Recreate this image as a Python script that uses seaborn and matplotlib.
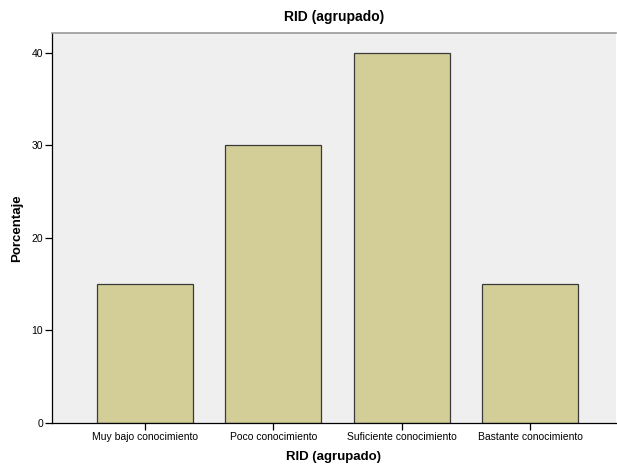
import matplotlib
matplotlib.use("Agg")
import matplotlib.pyplot as plt
import seaborn as sns
import pandas as pd

categories = ["Muy bajo conocimiento", "Poco conocimiento", "Suficiente conocimiento", "Bastante conocimiento"]
values = [15, 30, 40, 15]
yticks = [0, 10, 20, 30, 40]

sns.set_style("white")
plt.rcParams['font.family'] = ['Liberation Sans', 'DejaVu Sans']
plt.rcParams['text.color'] = 'black'
plt.rcParams['axes.labelcolor'] = 'black'
plt.rcParams['xtick.color'] = 'black'
plt.rcParams['ytick.color'] = 'black'

df = pd.DataFrame({"cat": categories, "pct": values})
fig = plt.figure(figsize=(6.17, 4.66), dpi=100)
ax = fig.add_axes([52/617, 43/466, 564/617, 390/466])
ax.set_facecolor("#EFEFEF")
sns.barplot(data=df, x="cat", y="pct", color="#D3CE97", saturation=1, width=0.747,
            edgecolor="#3A3A3A", linewidth=0.9, ax=ax)
ax.set_xlim(-0.724, 3.67)
ax.set_ylim(0, 42.16)
ax.set_yticks(yticks)
ax.tick_params(axis='both', which='both', length=5, width=0.9, color='black', labelsize=7.5,
               pad=1.5, direction='out', bottom=True, left=True, labelcolor='black')
for s in ["left", "bottom"]:
    ax.spines[s].set_color("black")
    ax.spines[s].set_linewidth(0.9)
ax.spines["top"].set_color("#999999")
ax.spines["top"].set_linewidth(1.2)
ax.spines["right"].set_visible(False)
ax.set_xlabel("RID (agrupado)", fontsize=9.5, fontweight="bold", labelpad=6.5)
ax.set_ylabel("Porcentaje", fontsize=9.5, fontweight="bold", labelpad=6)
ax.set_title("RID (agrupado)", fontsize=10, fontweight="bold", pad=9)
fig.savefig("out.png", dpi=100)
